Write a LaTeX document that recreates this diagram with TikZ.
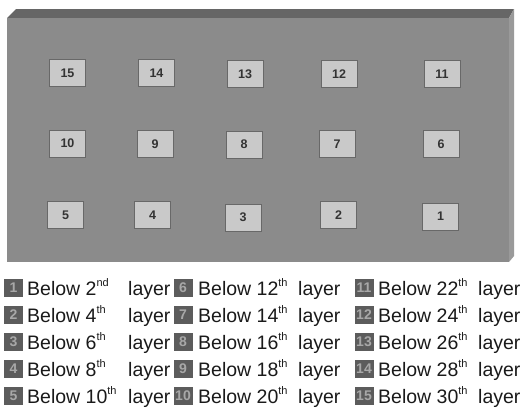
\documentclass[tikz,border=0pt]{standalone}
\usepackage{fontspec}
\setmainfont{Liberation Sans}
\definecolor{panelfront}{HTML}{8B8B8B}
\definecolor{paneltop}{HTML}{666666}
\definecolor{panelside}{HTML}{9A9A9A}
\definecolor{slotfill}{HTML}{C9C9C9}
\definecolor{slotedge}{HTML}{686868}
\definecolor{iconfill}{HTML}{5C5C5C}
\definecolor{icontext}{HTML}{A8A8A8}
\definecolor{lbltext}{HTML}{1A1A1A}
\newcommand\mysups[1]{\raisebox{0.45em}{\fontsize{11}{11}\selectfont #1}}
\tikzset{
  slot/.style={draw=slotedge, fill=slotfill, line width=0.8pt,
    minimum width=36pt, minimum height=27pt, inner sep=0pt,
    font=\fontsize{12.5}{13}\selectfont\bfseries, text=black!80},
  icon/.style={fill=iconfill, minimum width=19pt, minimum height=18pt, inner sep=0pt,
    font=\fontsize{14}{14}\selectfont\bfseries, text=icontext},
  lbl/.style={inner sep=0pt, font=\fontsize{19.5}{20}\selectfont, text=lbltext}
}
\begin{document}
\begin{tikzpicture}[x=1pt,y=-1pt]
\useasboundingbox (0,0) rectangle (522,415);
\fill[white] (0,0) rectangle (522,415);
% slab
\fill[paneltop] (7,18) -- (16,9) -- (514,9) -- (509,18) -- cycle;
\fill[panelside] (509,18) -- (514,9) -- (514,256) -- (509,262) -- cycle;
\fill[panelfront] (7,18) rectangle (509,262);
% slots
\node[slot] (s15) at (67.5,73) {15};
\node[slot] (s14) at (156.5,73) {14};
\node[slot] (s13) at (245,74) {13};
\node[slot] (s12) at (339,74) {12};
\node[slot] (s11) at (442,74) {11};
\node[slot] (s10) at (67.5,143.5) {10};
\node[slot] (s9) at (155,144) {9};
\node[slot] (s8) at (244,144.5) {8};
\node[slot] (s7) at (337,144) {7};
\node[slot] (s6) at (441,144) {6};
\node[slot] (s5) at (65.5,215) {5};
\node[slot] (s4) at (152.5,215) {4};
\node[slot] (s3) at (243,217.5) {3};
\node[slot] (s2) at (338.5,215) {2};
\node[slot] (s1) at (440.5,216.5) {1};
% legend
\foreach \n/\k/\s [count=\i from 0] in {1/2/nd,2/4/th,3/6/th,4/8/th,5/10/th,
  6/12/th,7/14/th,8/16/th,9/18/th,10/20/th,
  11/22/th,12/24/th,13/26/th,14/28/th,15/30/th}{
  \pgfmathtruncatemacro\c{int(\i/5)}
  \pgfmathtruncatemacro\r{mod(\i,5)}
  \pgfmathsetmacro\ix{{13.5,183,364}[\c]}
  \pgfmathsetmacro\bx{{27,198,378}[\c]}
  \pgfmathsetmacro\lx{{128,298,478}[\c]}
  \pgfmathsetmacro\by{295+27*\r}
  \node[icon] (ic\n) at (\ix,\by-7.5) {\n};
  \node[lbl, anchor=base west] (bl\n) at (\bx,\by) {Below \k\mysups{\s}};
  \node[lbl, anchor=base west] (ly\n) at (\lx,\by) {layer};
}
\end{tikzpicture}
\end{document}
